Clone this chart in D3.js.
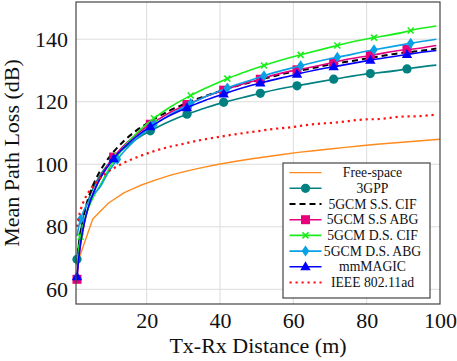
<!DOCTYPE html>
<html><head><meta charset="utf-8">
<script src="https://cdn.jsdelivr.net/npm/d3@7/dist/d3.min.js"></script>
<style>body{margin:0;background:#fff}svg{display:block}
svg text{font-family:"Liberation Serif","DejaVu Serif","Times New Roman",serif !important;fill:#111}</style>
</head><body>
<svg id="c" width="457" height="361"></svg>
<script>
// ---- data ----
const xTicks = [20, 40, 60, 80, 100];
const yTicks = [60, 80, 100, 120, 140];
const dist = [1,1.5,2,3,4,5,6,7,8,9,11,12,14,17,21,22,26,31,32,36,41,42,46,51,52,61,62,71,72,81,82,91,92,99];
const fsDist = [1,5.3,9.6,13.9,18.2,22.5,26.8,31.1,35.4,39.7,44.0,48.3,52.7,57.0,61.3,65.6,69.9,74.2,78.5,82.8,87.1,91.4,95.7,100];
const freeSpace = [68.0,82.5,87.6,90.9,93.2,95.0,96.6,97.9,99.0,100.0,100.9,101.7,102.4,103.1,103.8,104.3,104.9,105.4,105.9,106.4,106.8,107.2,107.6,108.0];
const gpp3 = [69.6,75.1,79.0,84.4,88.3,91.3,93.8,95.9,97.7,99.3,102.0,103.2,105.2,107.9,110.7,111.3,113.6,116.0,116.4,118.0,119.8,120.1,121.3,122.7,123.0,125.1,125.3,127.2,127.4,129.0,129.1,130.5,130.7,131.7];
const ssCIF = [68.0,74.1,78.4,84.5,88.8,92.2,94.9,97.2,99.2,101.0,104.0,105.3,107.7,110.6,113.7,114.4,117.0,119.6,120.1,121.8,123.8,124.2,125.5,127.1,127.4,129.8,130.0,132.1,132.3,134.0,134.2,135.8,135.9,137.0];
const ssABG = [63.2,69.8,74.5,81.1,85.8,89.4,92.4,94.9,97.1,99.0,102.3,103.7,106.2,109.3,112.8,113.5,116.3,119.1,119.6,121.6,123.7,124.1,125.6,127.2,127.6,130.2,130.4,132.6,132.9,134.8,135.0,136.7,136.8,138.0];
const dsCIF = [68.0,73.1,76.8,81.9,85.6,88.4,90.7,92.7,94.8,97.1,101.1,102.8,105.8,109.6,113.8,114.7,118.0,121.4,122.0,124.3,126.9,127.4,129.2,131.2,131.6,134.7,135.0,137.7,138.0,140.3,140.5,142.5,142.8,144.2];
const dsABG = [77.0,80.2,82.4,85.6,87.8,89.6,91.0,92.2,94.1,96.3,99.9,101.5,104.3,107.9,111.7,112.6,115.6,118.8,119.4,121.6,123.9,124.4,126.0,127.9,128.3,131.2,131.5,134.0,134.2,136.4,136.6,138.5,138.7,140.0];
const mmMAGIC = [64.0,70.4,74.9,81.3,85.9,89.4,92.2,94.7,96.8,98.6,101.8,103.2,105.6,108.7,112.0,112.7,115.4,118.1,118.6,120.5,122.5,122.9,124.4,126.0,126.3,128.8,129.1,131.2,131.4,133.3,133.5,135.1,135.3,136.4];
const ieee = [80.0,83.2,85.4,88.6,90.8,92.6,94.0,95.2,96.3,97.2,98.7,99.4,100.6,102.1,103.8,104.2,105.5,106.8,107.1,108.0,109.0,109.2,109.9,110.7,110.9,112.1,112.3,113.3,113.4,114.4,114.4,115.3,115.3,115.9];
const marksA = [1,11,21,31,41,51,61,71,81,91];
const marksB = [2,12,22,32,42,52,62,72,82,92];
const labels = ["Free-space","3GPP","5GCM S.S. CIF","5GCM S.S ABG","5GCM D.S. CIF","5GCM D.S. ABG","mmMAGIC","IEEE 802.11ad"];

// ---- layout ----
const L = 76, R = 440, T = 2, B = 304;
const x = d3.scaleLinear().domain([0.73, 100]).range([L, R]);
const y = d3.scaleLinear().domain([55.3, 151.9]).range([B, T]);
const svg = d3.select("#c");

// grid
svg.append("g").selectAll("line").data(xTicks.slice(0, -1)).join("line")
  .attr("x1", d => x(d)).attr("x2", d => x(d)).attr("y1", T).attr("y2", B)
  .attr("stroke", "#dcdcdc").attr("stroke-width", 1);
svg.append("g").selectAll("line").data(yTicks).join("line")
  .attr("y1", d => y(d)).attr("y2", d => y(d)).attr("x1", L).attr("x2", R)
  .attr("stroke", "#dcdcdc").attr("stroke-width", 1);

// axes via d3 axis (no tick lines)
const xAxis = svg.append("g").attr("transform", `translate(0,${B})`)
  .call(d3.axisBottom(x).tickValues(xTicks).tickSize(0).tickPadding(8).tickFormat(d3.format("d")));
const yAxis = svg.append("g").attr("transform", `translate(${L},0)`)
  .call(d3.axisLeft(y).tickValues(yTicks).tickSize(0).tickPadding(8).tickFormat(d3.format("d")));
[xAxis, yAxis].forEach(g => {
  g.select(".domain").remove();
  g.attr("font-family", null).attr("font-size", null);
  g.selectAll("text").style("font-size", "22px");
});

const series = [
  {name: labels[0], xs: fsDist, ys: freeSpace, color: "#ff8a1c", w: 1.4, dash: null, mark: null},
  {name: labels[1], xs: dist, ys: gpp3, color: "#008080", w: 1.6, dash: null, mark: "circle", at: marksA},
  {name: labels[2], xs: dist, ys: ssCIF, color: "#000000", w: 2.0, dash: "6,4", mark: null},
  {name: labels[3], xs: dist, ys: ssABG, color: "#e6007e", w: 1.6, dash: null, mark: "square", at: marksA},
  {name: labels[4], xs: dist, ys: dsCIF, color: "#1aee1a", w: 1.6, dash: null, mark: "x", at: marksB},
  {name: labels[5], xs: dist, ys: dsABG, color: "#0aa0e6", w: 1.6, dash: null, mark: "diamond", at: marksB},
  {name: labels[6], xs: dist, ys: mmMAGIC, color: "#0000ff", w: 1.6, dash: null, mark: "triangle", at: marksA},
  {name: labels[7], xs: dist, ys: ieee, color: "#ff1010", w: 2.2, dash: "2.2,3.8", mark: null}
];

function drawMark(g, type, cx, cy, color) {
  if (type === "circle") g.append("circle").attr("cx", cx).attr("cy", cy).attr("r", 4.6).attr("fill", color);
  else if (type === "square") g.append("rect").attr("x", cx - 4.5).attr("y", cy - 4.5).attr("width", 9).attr("height", 9).attr("fill", color);
  else if (type === "triangle") g.append("path").attr("d", `M${cx},${cy-5.5}L${cx+5.2},${cy+3.5}L${cx-5.2},${cy+3.5}Z`).attr("fill", color);
  else if (type === "diamond") g.append("path").attr("d", `M${cx},${cy-5.5}L${cx+3.8},${cy}L${cx},${cy+5.5}L${cx-3.8},${cy}Z`).attr("fill", color);
  else if (type === "x") g.append("path").attr("d", `M${cx-3},${cy-3}L${cx+3},${cy+3}M${cx-3},${cy+3}L${cx+3},${cy-3}`).attr("stroke", color).attr("stroke-width", 1.6);
}

const plot = svg.append("g");
series.forEach((s, i) => {
  const pts = s.xs.map((d, k) => [d, s.ys[k]]);
  const line = d3.line().x(p => x(p[0])).y(p => y(p[1]))
    .curve(i === 0 ? d3.curveLinear : d3.curveMonotoneX);
  plot.append("path").attr("d", line(pts)).attr("fill", "none")
    .attr("stroke", s.color).attr("stroke-width", s.w)
    .attr("stroke-dasharray", s.dash).attr("stroke-linejoin", "round");
  if (s.mark) {
    const g = plot.append("g");
    pts.filter(p => s.at.includes(p[0])).forEach(p => drawMark(g, s.mark, x(p[0]), y(p[1]), s.color));
  }
});

// frame
svg.append("rect").attr("x", L).attr("y", T).attr("width", R - L).attr("height", B - T)
  .attr("fill", "none").attr("stroke", "#444").attr("stroke-width", 1.2);

// legend
const lg = svg.append("g");
lg.append("rect").attr("x", 283).attr("y", 163).attr("width", 147).attr("height", 135)
  .attr("fill", "#fff").attr("stroke", "#444").attr("stroke-width", 1.2);
series.forEach((s, i) => {
  const cy = 172.6 + i * 15.7;
  lg.append("line").attr("x1", 289.5).attr("x2", 321.5).attr("y1", cy).attr("y2", cy)
    .attr("stroke", s.color).attr("stroke-width", s.w).attr("stroke-dasharray", s.dash);
  if (s.mark) drawMark(lg, s.mark, 305.5, cy, s.color);
  lg.append("text").attr("x", 372.5).attr("y", cy).attr("dy", "0.34em").attr("text-anchor", "middle")
    .style("font-size", "13.7px").text(s.name);
});

// axis titles
svg.append("text").attr("x", (L + R) / 2).attr("y", 353).attr("text-anchor", "middle")
  .style("font-size", "22px").text("Tx-Rx Distance (m)");
svg.append("text").attr("transform", `translate(19,${(T + B) / 2}) rotate(-90)`).attr("text-anchor", "middle")
  .style("font-size", "22px").text("Mean Path Loss (dB)");
</script>
</body></html>
